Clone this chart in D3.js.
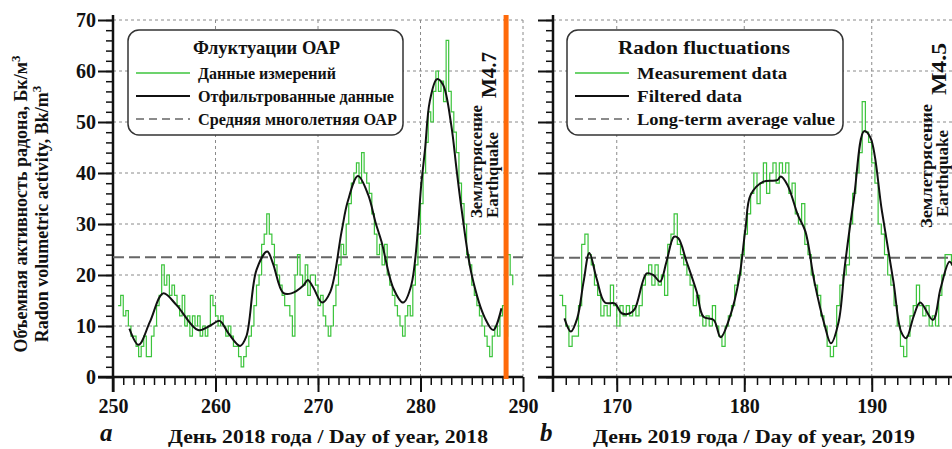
<!DOCTYPE html>
<html><head><meta charset="utf-8">
<script src="https://cdn.jsdelivr.net/npm/d3@7"></script>
<style>
body{margin:0;background:#fff}
svg{display:block}
text{font-family:"Liberation Serif","Times New Roman",serif;font-weight:bold;fill:#111}
</style>
</head><body>
<svg id="c" width="952" height="449"></svg>
<script>
// ---------- data ----------
const yTicks = [0, 10, 20, 30, 40, 50, 60, 70];
const xTicksA = [250, 260, 270, 280, 290];
const xTicksB = [170, 180, 190];
const meanA = 23.5;
const meanB = 23.4;
const quakeDayA = 288.35;

// measurement data (step series), panel a: 6-hour values from day 250.5
const greenStartA = 250.5;
const greenStepA = 0.25;
const greenA = [
14,16,12,13,  10,8,8,6,     4,6,8,4,      4,8,10,14,
16,22,18,20,  16,18,16,14,  12,16,10,12,  8,12,10,12,
8,10,8,10,    16,14,12,10,  12,10,8,10,   8,6,6,4,
2,4,6,8,      10,14,18,20,  26,28,32,28,  26,22,20,18,
16,14,14,12,  8,20,24,20,   18,22,16,20,  20,18,14,16,
12,10,8,10,   14,18,22,26,  24,30,34,38,  40,42,38,44,
40,38,36,32,  28,24,26,22,  26,20,18,16,  14,12,10,8,
12,14,12,18,  22,28,34,40,  46,52,50,56,  60,56,58,54,
66,56,52,48,  44,38,34,30,  24,22,18,16,  14,12,10,8,
6,4,8,10,     8,12,14,8,    24,20,18
];

// filtered data, panel a
const filtDaysA = [251.6,252.5,253.6,254.9,256.2,258.3,259.5,260.4,261.25,262.4,263.0,264.0,265.05,265.6,266.6,267.4,268.6,269.0,269.5,270.4,271.2,272.3,272.9,273.9,274.9,275.6,276.2,277.35,278.3,279.1,280.1,280.45,280.9,281.6,282.2,283.0,283.5,284.0,285.0,286.3,287.1,287.9];
const filtValsA = [9.5,6.3,10.8,16.4,14.1,9.2,10.1,11.0,8.6,6.1,7.9,21.0,24.6,22.3,16.5,16.4,18.0,19.0,17.7,14.6,16.7,28.5,34.4,39.4,35.7,30.4,26.5,17.4,14.6,18.0,38.3,44.8,54.0,58.4,57.3,49.4,41.0,33.0,20.0,11.5,9.2,13.5];

// measurement data, panel b
const greenStartB = 165.5;
const greenStepB = 0.25;
const greenB = [
16,14,10,6,   8,8,14,26,    28,24,22,18,  16,12,14,12,
18,14,10,14,  12,14,12,14,  12,14,18,20,  22,18,22,18,
20,16,26,28,  32,26,24,22,  20,18,14,16,  12,10,12,10,
14,10,8,6,    10,12,14,18,  20,24,28,32,  36,40,34,38,
42,36,40,42,  38,42,40,42,  36,38,32,30,  34,26,24,20,
18,16,12,10,  6,4,6,14,     18,20,22,30,  36,40,44,54,
48,46,42,38,  30,28,24,20,  18,14,10,6,   4,8,12,14,
18,14,12,14,  10,12,10,16,  20,24,24,22,  20
];

// filtered data, panel b
const filtDaysB = [165.9,166.4,166.9,167.4,167.85,168.42,169.07,169.86,170.38,171.04,171.43,172.35,172.87,173.4,173.9,174.49,174.83,175.48,176.27,176.8,177.6,178.15,178.9,179.6,180.1,180.5,181.5,182.6,182.86,183.4,184.2,184.8,185.5,186.3,186.8,187.4,187.9,188.6,189.4,189.9,190.8,191.7,192.3,192.7,193.3,193.8,194.8,195.4,196.1,196.5];
const filtValsB = [11.5,8.9,11.5,18.7,24.3,19.3,14.6,14.4,12.5,12.5,13.4,20.3,20.0,18.7,22.6,27.5,27.2,22.6,16.7,11.8,11.2,7.8,12.0,19.3,29.2,35.7,38.3,38.6,39.3,37.6,31.8,28.5,18.7,10.2,6.6,10.8,22.0,35.0,48.2,46.9,32.5,18.7,8.9,7.6,12.0,14.6,11.2,17.4,22.6,21.0];

// ---------- drawing ----------
const svg = d3.select("#c");
const GREEN = "#3cc43c";
const ORANGE = "#ff6a0a";
const y = d3.scaleLinear().domain([0, 70]).range([377, 20]);
const xA = d3.scaleLinear().domain([250, 290]).range([113, 523]);
const xB = d3.scaleLinear().domain([165, 197]).range([553, 961]);

function panel(x, xTicks, xMin, xMax, xRight, showYLabels, minorX) {
  const g = svg.append("g");
  g.selectAll(".hg").data(yTicks.filter(v => v > 0)).join("line")
    .attr("x1", x(xMin)).attr("x2", xRight).attr("y1", d => y(d)).attr("y2", d => y(d))
    .attr("stroke", "#8a8a8a").attr("stroke-width", 1).attr("stroke-dasharray", "3,3");
  g.selectAll(".vg").data(xTicks.filter(v => v > xMin)).join("line")
    .attr("x1", d => x(d)).attr("x2", d => x(d)).attr("y1", y(70)).attr("y2", y(0))
    .attr("stroke", "#8a8a8a").attr("stroke-width", 1).attr("stroke-dasharray", "3,3");
  const yMajor = d3.axisLeft(y).tickValues(yTicks).tickSize(15).tickPadding(2)
    .tickFormat(showYLabels ? d3.format("d") : () => "");
  const ga = g.append("g").attr("transform", `translate(${x(xMin)},0)`).call(yMajor);
  ga.select(".domain").remove();
  ga.selectAll("line").attr("stroke", "#111").attr("stroke-width", 2);
  ga.selectAll("text").attr("font-size", 20).attr("fill", "#111");
  const yMinor = d3.axisLeft(y).tickValues(d3.range(0, 71, 2)).tickSize(7).tickFormat(() => "");
  const gm = g.append("g").attr("transform", `translate(${x(xMin)},0)`).call(yMinor);
  gm.select(".domain").remove();
  gm.selectAll("line").attr("stroke", "#111").attr("stroke-width", 1.5);
  const xMajor = d3.axisBottom(x).tickValues(xTicks).tickSize(15).tickPadding(7).tickFormat(d3.format("d"));
  const gx = g.append("g").attr("transform", `translate(0,${y(0)})`).call(xMajor);
  gx.select(".domain").remove();
  gx.selectAll("line").attr("stroke", "#111").attr("stroke-width", 2);
  gx.selectAll("text").attr("font-size", 20).attr("fill", "#111");
  const xMinor = d3.axisBottom(x).tickValues(minorX).tickSize(8).tickFormat(() => "");
  const gxm = g.append("g").attr("transform", `translate(0,${y(0)})`).call(xMinor);
  gxm.select(".domain").remove();
  gxm.selectAll("line").attr("stroke", "#111").attr("stroke-width", 1.5);
  g.append("line").attr("x1", x(xMin)).attr("x2", x(xMin)).attr("y1", 15).attr("y2", y(0) + 15)
    .attr("stroke", "#111").attr("stroke-width", 2.5);
  g.append("line").attr("x1", x(xMin) - 15).attr("x2", xRight).attr("y1", y(0)).attr("y2", y(0))
    .attr("stroke", "#111").attr("stroke-width", 2.5);
  return g;
}

const gA = panel(xA, xTicksA, 250, 290, xA(290), true, d3.range(251, 290, 1));
const gB = panel(xB, xTicksB, 165, 197, 952, false, d3.range(166, 197, 1));

function series(g, x, start, step, vals, mean, fd, fv, xMinPx, xMaxPx) {
  g.append("line").attr("x1", xMinPx).attr("x2", xMaxPx).attr("y1", y(mean)).attr("y2", y(mean))
    .attr("stroke", "#666").attr("stroke-width", 2).attr("stroke-dasharray", "11,5");
  const pts = vals.map((v, i) => [start + i * step, v]);
  g.append("path").attr("d", d3.line().x(d => x(d[0])).y(d => y(d[1])).curve(d3.curveStepAfter)(pts))
    .attr("fill", "none").attr("stroke", GREEN).attr("stroke-width", 1.2);
  const fp = fd.map((d, i) => [d, fv[i]]);
  g.append("path").attr("d", d3.line().x(d => x(d[0])).y(d => y(d[1])).curve(d3.curveCatmullRom.alpha(0.5))(fp))
    .attr("fill", "none").attr("stroke", "#111").attr("stroke-width", 2);
}
series(gA, xA, greenStartA, greenStepA, greenA, meanA, filtDaysA, filtValsA, xA(250), xA(290));
series(gB, xB, greenStartB, greenStepB, greenB, meanB, filtDaysB, filtValsB, xB(165), 952);

gA.append("line").attr("x1", xA(quakeDayA)).attr("x2", xA(quakeDayA)).attr("y1", 15).attr("y2", y(0) + 2)
  .attr("stroke", ORANGE).attr("stroke-width", 5);

function vtext(x0, y0, str, size, len) {
  const t = svg.append("text").attr("transform", `translate(${x0},${y0}) rotate(-90)`)
    .attr("font-size", size).text(str);
  if (len) t.attr("textLength", len).attr("lengthAdjust", "spacingAndGlyphs");
  return t;
}
vtext(482, 218, "Землетрясение", 16, 113);
vtext(498, 218, "Earthquake", 16, 86);
vtext(496, 98, "M4.7", 22, 46);
vtext(932, 228, "Землетрясение", 16, 124);
vtext(948, 217, "Earthquake", 16, 87);
vtext(946, 95, "M4.5", 22, 52);

function legend(x0, x1, titleX, title, titleLen, items) {
  const g = svg.append("g");
  g.append("rect").attr("x", x0).attr("y", 30).attr("width", x1 - x0).attr("height", 105)
    .attr("rx", 11).attr("fill", "#fff").attr("stroke", "#333").attr("stroke-width", 1.5);
  g.append("text").attr("x", titleX).attr("y", 54).attr("font-size", 19)
    .attr("textLength", titleLen).attr("lengthAdjust", "spacingAndGlyphs").text(title);
  items.forEach((it, i) => {
    const yy = [73, 96, 119][i];
    g.append("line").attr("x1", x0 + 8).attr("x2", x0 + 62).attr("y1", yy).attr("y2", yy)
      .attr("stroke", it.color).attr("stroke-width", it.w).attr("stroke-dasharray", it.dash || null);
    g.append("text").attr("x", x0 + 70).attr("y", [79, 102, 125][i]).attr("font-size", 17)
      .attr("textLength", it.len).attr("lengthAdjust", "spacingAndGlyphs").text(it.label);
  });
}
legend(128, 403, 193, "Флуктуации ОАР", 147, [
  {label: "Данные измерений", color: GREEN, w: 1.5, len: 138},
  {label: "Отфильтрованные данные", color: "#111", w: 2, len: 196},
  {label: "Средняя многолетняя ОАР", color: "#666", w: 1.5, dash: "8,5", len: 199}
]);
legend(567, 843, 618, "Radon fluctuations", 172, [
  {label: "Measurement data", color: GREEN, w: 1.5, len: 150},
  {label: "Filtered data", color: "#111", w: 2, len: 105},
  {label: "Long-term average value", color: "#666", w: 1.5, dash: "8,5", len: 198}
]);

const t1 = svg.append("text").attr("transform", "translate(27,204) rotate(-90)")
  .attr("text-anchor", "middle").attr("font-size", 18);
t1.append("tspan").text("Объемная активность радона, Бк/м");
t1.append("tspan").attr("dy", -7).attr("font-size", 13).text("3");
const t2 = svg.append("text").attr("transform", "translate(48,214) rotate(-90)")
  .attr("text-anchor", "middle").attr("font-size", 18);
t2.append("tspan").text("Radon volumetric activity, Bk/m");
t2.append("tspan").attr("dy", -7).attr("font-size", 13).text("3");

svg.append("text").attr("x", 168).attr("y", 443).attr("font-size", 18)
  .attr("textLength", 320).attr("lengthAdjust", "spacingAndGlyphs").text("День 2018 года / Day of year, 2018");
svg.append("text").attr("x", 593).attr("y", 443).attr("font-size", 18)
  .attr("textLength", 322).attr("lengthAdjust", "spacingAndGlyphs").text("День 2019 года / Day of year, 2019");
svg.append("text").attr("x", 100).attr("y", 441).attr("font-size", 25).attr("font-style", "italic").text("a");
svg.append("text").attr("x", 540).attr("y", 441).attr("font-size", 25).attr("font-style", "italic").text("b");
</script>
</body></html>
